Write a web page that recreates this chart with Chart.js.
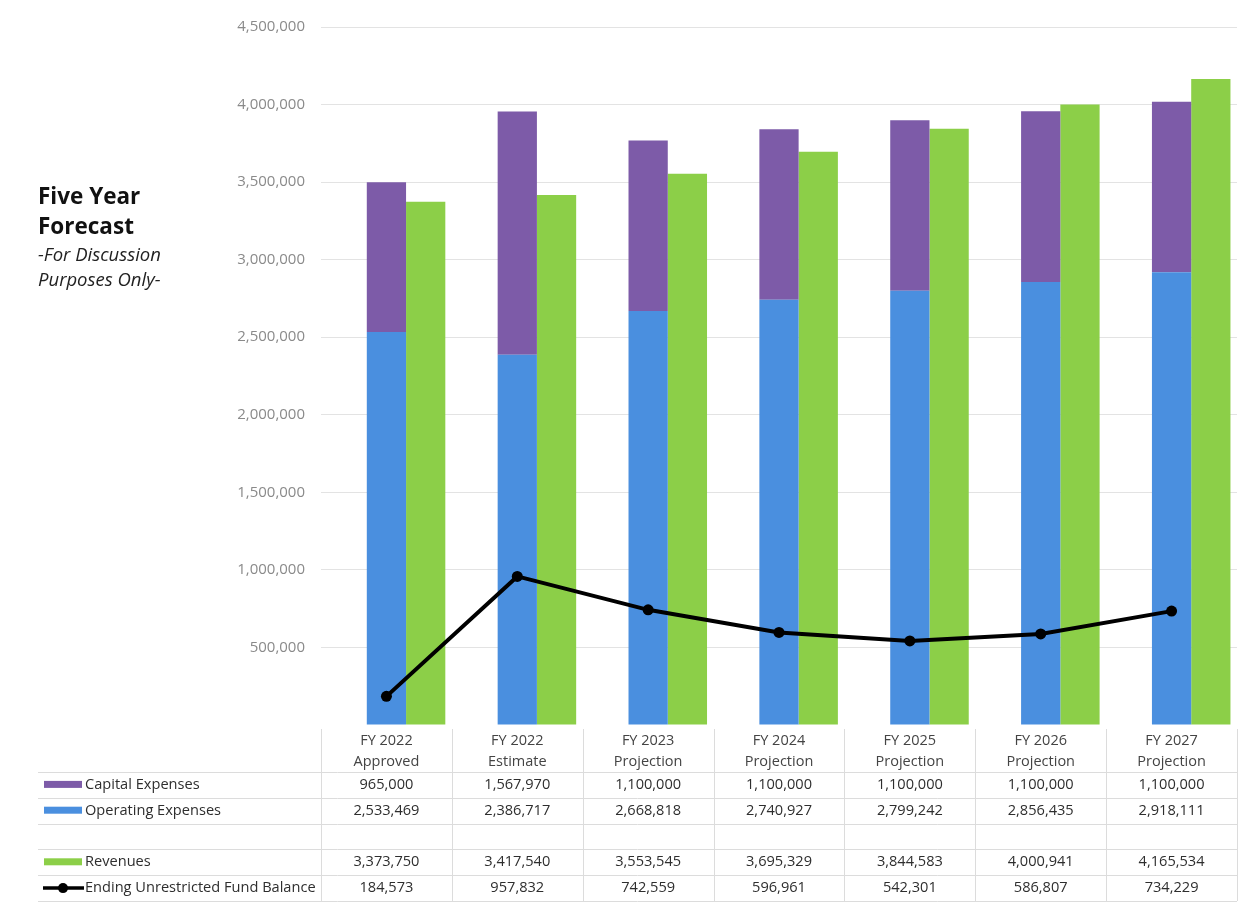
<!DOCTYPE html>
<html>
<head>
<meta charset="utf-8">
<script src="https://cdn.jsdelivr.net/npm/chart.js@4"></script>
<style>
  body { margin: 0; background: #fff; }
  #wrap { position: relative; width: 1254px; height: 903px; }
  #titulo { position: absolute; left: 38px; top: 181px; font-family: "Open Sans", sans-serif; color: #111; }
  #titulo .t1 { font-size: 22.5px; font-weight: 700; line-height: 30px; }
  #titulo .t2 { font-size: 18.5px; font-style: italic; line-height: 25px; color: #222; }
</style>
</head>
<body>
<div id="wrap">
  <canvas id="grafico"></canvas>
  <div id="titulo">
    <div class="t1">Five Year</div>
    <div class="t1">Forecast</div>
    <div class="t2">-For Discussion</div>
    <div class="t2">Purposes Only-</div>
  </div>
</div>
<script>
// Datos
const categorias = [
  ["FY 2022", "Approved"],
  ["FY 2022", "Estimate"],
  ["FY 2023", "Projection"],
  ["FY 2024", "Projection"],
  ["FY 2025", "Projection"],
  ["FY 2026", "Projection"],
  ["FY 2027", "Projection"]
];
const gastosCapital = [965000, 1567970, 1100000, 1100000, 1100000, 1100000, 1100000];
const gastosOperativos = [2533469, 2386717, 2668818, 2740927, 2799242, 2856435, 2918111];
const ingresos = [3373750, 3417540, 3553545, 3695329, 3844583, 4000941, 4165534];
const saldoFondo = [184573, 957832, 742559, 596961, 542301, 586807, 734229];
const ejeMax = 4500000;
const ejePaso = 500000;

const colores = {
  capital: "#7d5ba8",
  operativo: "#4a8fdf",
  ingresos: "#8ccf48",
  saldo: "#000000"
};

const fmt = n => n.toLocaleString("en-US");

// Tabla de datos debajo del eje x
const filas = [
  { nombre: "Capital Expenses", valores: gastosCapital, tipo: "barra", color: colores.capital },
  { nombre: "Operating Expenses", valores: gastosOperativos, tipo: "barra", color: colores.operativo },
  null,
  { nombre: "Revenues", valores: ingresos, tipo: "barra", color: colores.ingresos },
  { nombre: "Ending Unrestricted Fund Balance", valores: saldoFondo, tipo: "linea", color: colores.saldo }
];

const tablaDatos = {
  id: "tablaDatos",
  afterDraw(chart) {
    const ctx = chart.ctx;
    const x = chart.scales.x;
    const n = categorias.length;
    const ancho = (x.right - x.left) / n;
    const top = x.bottom;
    const altoFila = 25.8;
    const izq = 38;

    ctx.save();
    ctx.strokeStyle = "#dcdcdc";
    ctx.lineWidth = 1;

    // lineas horizontales
    for (let i = 0; i <= filas.length; i++) {
      const y = Math.round(top + i * altoFila) + 0.5;
      ctx.beginPath();
      ctx.moveTo(izq, y);
      ctx.lineTo(x.right, y);
      ctx.stroke();
    }

    // lineas verticales
    for (let k = 0; k <= n; k++) {
      const xx = Math.round(x.left + k * ancho) + 0.5;
      ctx.beginPath();
      ctx.moveTo(xx, chart.chartArea.bottom + 4);
      ctx.lineTo(xx, top + filas.length * altoFila);
      ctx.stroke();
    }

    ctx.font = "14.6px 'Open Sans', sans-serif";
    ctx.textBaseline = "middle";

    filas.forEach((fila, i) => {
      if (!fila) return;
      const yc = top + i * altoFila + altoFila / 2;

      // clave de la leyenda
      if (fila.tipo === "barra") {
        ctx.fillStyle = fila.color;
        ctx.fillRect(44, yc - 4, 38, 7);
      } else {
        ctx.strokeStyle = fila.color;
        ctx.lineWidth = 3.5;
        ctx.beginPath();
        ctx.moveTo(43, yc);
        ctx.lineTo(84, yc);
        ctx.stroke();
        ctx.fillStyle = fila.color;
        ctx.beginPath();
        ctx.arc(63, yc, 5, 0, Math.PI * 2);
        ctx.fill();
      }

      ctx.fillStyle = "#2e2e2e";
      ctx.textAlign = "left";
      ctx.fillText(fila.nombre, 85, yc);

      ctx.textAlign = "center";
      fila.valores.forEach((v, j) => {
        ctx.fillText(fmt(v), x.getPixelForValue(j), yc);
      });
    });
    ctx.restore();
  }
};

const ctx = document.getElementById("grafico").getContext("2d");

new Chart(ctx, {
  type: "bar",
  data: {
    labels: categorias,
    datasets: [
      {
        // hueco vacio para centrar la barra apilada en la categoria
        label: "",
        data: categorias.map(() => null),
        stack: "hueco",
        order: 2
      },
      {
        label: "Operating Expenses",
        data: gastosOperativos,
        backgroundColor: colores.operativo,
        stack: "gastos",
        order: 2
      },
      {
        label: "Capital Expenses",
        data: gastosCapital,
        backgroundColor: colores.capital,
        stack: "gastos",
        order: 2
      },
      {
        label: "Revenues",
        data: ingresos,
        backgroundColor: colores.ingresos,
        stack: "ingresos",
        order: 2
      },
      {
        type: "line",
        label: "Ending Unrestricted Fund Balance",
        data: saldoFondo,
        borderColor: colores.saldo,
        backgroundColor: colores.saldo,
        borderWidth: 4,
        pointRadius: 5.5,
        pointBackgroundColor: colores.saldo,
        pointBorderWidth: 0,
        tension: 0,
        order: 0
      }
    ]
  },
  options: {
    responsive: true,
    maintainAspectRatio: false,
    animation: false,
    layout: { padding: { left: 0, right: 17, top: 27, bottom: 131 } },
    datasets: {
      bar: { categoryPercentage: 0.9, barPercentage: 1.0 }
    },
    plugins: {
      legend: { display: false },
      tooltip: { enabled: false }
    },
    scales: {
      x: {
        stacked: true,
        grid: { display: false, drawTicks: false },
        border: { display: false },
        ticks: {
          color: "#444",
          padding: 6,
          font: { family: "'Open Sans', sans-serif", size: 14.5, lineHeight: 1.4 },
          maxRotation: 0
        },
        afterFit(scale) { scale.height = 47; }
      },
      y: {
        stacked: true,
        min: 0,
        max: ejeMax,
        grid: { color: (c) => (c.tick.value === 0 ? "rgba(0,0,0,0)" : "#e3e3e3"), drawTicks: false },
        border: { display: false },
        ticks: {
          stepSize: ejePaso,
          padding: 16,
          color: "#8a8a8a",
          font: { family: "'Open Sans', sans-serif", size: 15 },
          callback: v => (v === 0 ? "" : fmt(v))
        },
        afterFit(scale) { scale.width = 321; }
      }
    }
  },
  plugins: [tablaDatos]
});
</script>
</body>
</html>
